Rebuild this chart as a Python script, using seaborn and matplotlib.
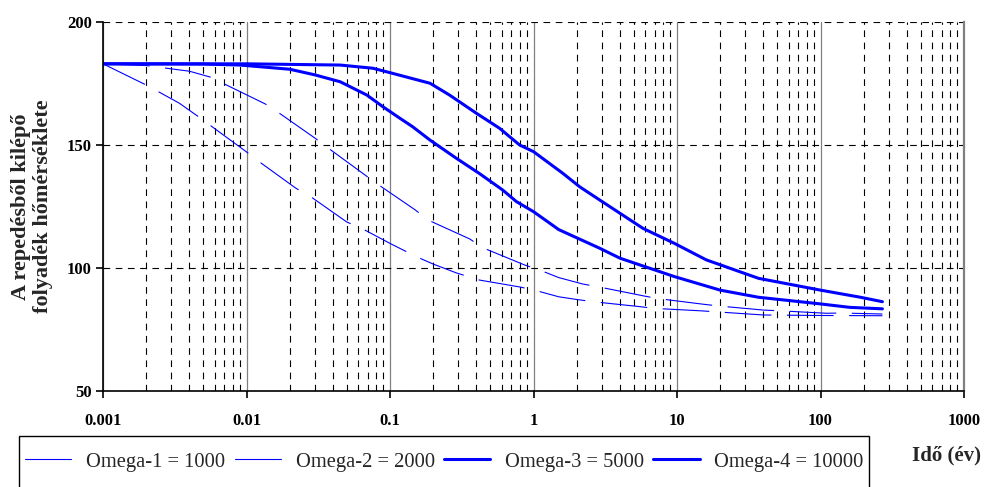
import matplotlib
matplotlib.use("Agg")
import matplotlib.pyplot as plt
import seaborn as sns
import numpy as np
import pandas as pd
from matplotlib.ticker import LogLocator, NullFormatter
from matplotlib.lines import Line2D
from matplotlib.patches import Rectangle

# ---- data ----
t_om1 = [0.001, 0.0017, 0.002, 0.0034, 0.0045, 0.01, 0.0124, 0.022, 0.028, 0.05, 0.065,
         0.1, 0.154, 0.2, 0.29, 0.42, 0.8, 1.0, 1.5, 2.0, 2.6, 5.5, 6.9, 14.6, 40, 100, 270]
y_om1 = [183, 176.4, 174.4, 167, 162, 147.2, 143, 132.5, 129, 118.7, 115.8,
         110, 104.5, 101.6, 98, 95.1, 92.3, 91.1, 88.3, 87.2, 86.3, 84.3, 83.6, 82.6, 80.9,
         80.7, 80.6]

t_om2 = [0.001, 0.002, 0.0027, 0.004, 0.0056, 0.0069, 0.0135, 0.0165, 0.03, 0.037, 0.067,
         0.08, 0.15, 0.184, 0.36, 0.44, 0.87, 1.1, 1.5, 2.2, 2.8, 5.8, 7.3, 15.6, 20, 40, 52,
         110, 140, 270]
y_om2 = [183, 182.3, 181.3, 180, 177.6, 175, 166.7, 163.4, 152.8, 148.8, 137.8,
         134.5, 123.6, 119.5, 111.8, 108.3, 101.2, 99.2, 96.1, 93.5, 92.4, 88.7, 87.6, 85.2,
         84.5, 82.9, 82.6, 81.6, 81.7, 81.3]

t_om3 = [0.001, 0.005, 0.009, 0.02, 0.03, 0.045, 0.069, 0.089, 0.117, 0.144, 0.19, 0.29,
         0.42, 0.61, 0.76, 1.0, 1.5, 2.9, 4, 9.6, 20, 37, 100, 160, 270]
y_om3 = [183, 182.9, 182.5, 180.8, 178.5, 175.7, 170.3, 165.6, 160.9, 157.4, 152, 144.6,
         138.4, 131.7, 127, 122.9, 115.6, 108, 104, 96.5, 91, 88.1, 85.4, 84.0, 83.4]

t_om4 = [0.001, 0.01, 0.045, 0.076, 0.1, 0.19, 0.26, 0.4, 0.58, 0.8, 1.0, 1.6, 2.1, 2.9,
         5.8, 9.6, 16, 37, 100, 190, 270]
y_om4 = [183, 183, 182.5, 181.2, 179.4, 175.1, 170.3, 162.9, 156.8, 150, 147.3, 138.5, 133,
         127.6, 116.1, 110, 103.3, 95.8, 91, 88.1, 86.3]

series_labels = ["Omega-1 = 1000", "Omega-2 = 2000", "Omega-3 = 5000", "Omega-4 = 10000"]
x_tick_vals = [0.001, 0.01, 0.1, 1, 10, 100, 1000]
x_tick_labels = ["0.001", "0.01", "0.1", "1", "10", "100", "1000"]
y_tick_vals = [50, 100, 150, 200]
x_label = "Idő (év)"
y_label = "A repedésből kilépő\nfolyadék hőmérséklete"

# ---- style ----
sns.set_style("white")
plt.rcParams["font.family"] = ["Liberation Serif", "DejaVu Serif"]

fig = plt.figure(figsize=(9.84, 4.87), dpi=100)
ax = fig.add_axes([103 / 984, 1 - 391 / 487, (964 - 103) / 984, (391 - 22) / 487])

blue = "#0000FF"
styles = [
    dict(lw=0.8, linestyle=(0, (42, 14))),
    dict(lw=0.8, linestyle=(0, (42, 14))),
    dict(lw=2.2, linestyle="-"),
    dict(lw=2.2, linestyle="-"),
]
data = [(t_om1, y_om1), (t_om2, y_om2), (t_om3, y_om3), (t_om4, y_om4)]
for (tx, ty), st in zip(data, styles):
    df = pd.DataFrame({"t": tx, "T": ty})
    sns.lineplot(data=df, x="t", y="T", ax=ax, color=blue, legend=False, **st)

ax.set_xscale("log")
ax.set_xlim(0.001, 1000)
ax.set_ylim(50, 200)

ax.set_xticks(x_tick_vals)
ax.set_xticklabels(x_tick_labels)
ax.xaxis.set_minor_locator(LogLocator(base=10, subs=np.arange(2, 10), numticks=100))
ax.xaxis.set_minor_formatter(NullFormatter())
ax.set_yticks(y_tick_vals)

# grid
ax.grid(False)
ax.xaxis.grid(True, which="major", color="#808080", lw=0.9, linestyle="-")
ax.xaxis.grid(True, which="minor", color="black", lw=0.8, linestyle=(0, (6, 5)))
ax.yaxis.grid(True, which="major", color="black", lw=0.8, linestyle=(0, (6, 5)))
ax.set_axisbelow(True)

ax.spines["top"].set_visible(False)
ax.spines["right"].set_color("#808080")
ax.spines["right"].set_linewidth(1.6)
ax.spines["left"].set_color("black")
ax.spines["left"].set_linewidth(1.2)
ax.spines["bottom"].set_color("black")
ax.spines["bottom"].set_linewidth(1.2)

ax.tick_params(axis="x", which="major", direction="out", length=5, width=1.2,
               pad=11, labelsize=12, colors="black", bottom=True)
ax.tick_params(axis="x", which="minor", length=0, bottom=False)
ax.tick_params(axis="y", which="major", direction="out", length=5, width=1.2,
               pad=3, labelsize=12, colors="black", left=True)
for lbl in ax.get_xticklabels() + ax.get_yticklabels():
    lbl.set_fontweight("bold")

ax.set_xlabel("")
ax.set_ylabel(y_label, fontsize=16, fontweight="bold", linespacing=1.12)
ax.yaxis.set_label_coords(-0.058, 0.5)

fig.text(946 / 984, 1 - 455 / 487, x_label, ha="center", va="center",
         fontsize=15, fontweight="bold")

# legend
handles = [Line2D([0], [0], color=blue, lw=s["lw"]) for s in styles]
leg = fig.legend(handles, series_labels, loc="upper left",
                 bbox_to_anchor=(21 / 984, 1 - 448 / 487), ncol=4, frameon=False,
                 fontsize=14.8, handlelength=2.25, handletextpad=0.72, columnspacing=0.45,
                 borderpad=0.2, borderaxespad=0)
fig.patches.append(Rectangle((19 / 984, -0.05), (869 - 19) / 984, 1 - 436 / 487 + 0.05,
                             transform=fig.transFigure, fill=False, edgecolor="black",
                             lw=1.0))

fig.savefig("out.png", dpi=100)
